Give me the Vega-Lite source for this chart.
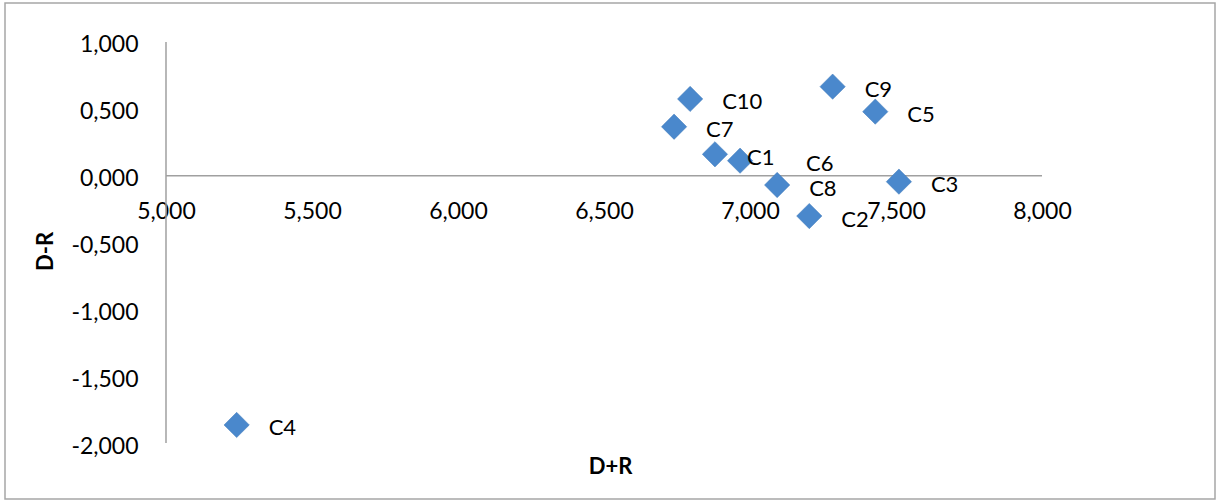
{
  "$schema": "https://vega.github.io/schema/vega-lite/v6.json",
  "width": 1210,
  "height": 496,
  "autosize": {"type": "none"},
  "padding": {"left": 5, "top": 3, "right": 5, "bottom": 2},
  "background": "white",
  "config": {
    "view": {"stroke": "#a6a6a6", "strokeWidth": 1.5},
    "font": "Lato"
  },
  "datasets": {
    "points": [
      {"label": "C1", "dr_sum": 6.880, "dr_diff": 0.160},
      {"label": "C2", "dr_sum": 7.203, "dr_diff": -0.302},
      {"label": "C3", "dr_sum": 7.510, "dr_diff": -0.045},
      {"label": "C4", "dr_sum": 5.242, "dr_diff": -1.865},
      {"label": "C5", "dr_sum": 7.429, "dr_diff": 0.479},
      {"label": "C6", "dr_sum": 6.966, "dr_diff": 0.112},
      {"label": "C7", "dr_sum": 6.740, "dr_diff": 0.366},
      {"label": "C8", "dr_sum": 7.093, "dr_diff": -0.070},
      {"label": "C9", "dr_sum": 7.283, "dr_diff": 0.666},
      {"label": "C10", "dr_sum": 6.795, "dr_diff": 0.574}
    ],
    "axislines": [
      {"dr_sum": 5, "dr_diff": -2, "sum_end": 5, "diff_end": 1},
      {"dr_sum": 5, "dr_diff": 0, "sum_end": 8, "diff_end": 0}
    ]
  },
  "layer": [
    {
      "data": {"name": "axislines"},
      "mark": {"type": "rule", "color": "#a0a0a0", "strokeWidth": 1.5},
      "encoding": {
        "x": {
          "field": "dr_sum",
          "type": "quantitative",
          "scale": {"domain": [4.44863, 8.59247], "nice": false, "zero": false},
          "axis": {
            "orient": "bottom",
            "offset": -323.33,
            "values": [5, 5.5, 6, 6.5, 7, 7.5, 8],
            "domain": false,
            "ticks": false,
            "tickSize": 0,
            "grid": false,
            "labelExpr": "replace(replace(format(datum.value, '.3f'), '.', ','), '\u2212', '-')",
            "labelFont": "Lato",
            "labelFontSize": 23,
            "labelColor": "black",
            "labelPadding": 25,
            "labelBaseline": "top",
            "labelFlush": false,
            "labelOverlap": false,
            "title": "D+R",
            "titleFont": "Lato",
            "titleFontSize": 22,
            "titleFontWeight": "bold",
            "titleColor": "black",
            "titleY": 291,
            "titleBaseline": "middle"
          }
        },
        "y": {
          "field": "dr_diff",
          "type": "quantitative",
          "scale": {"domain": [-2.41895, 1.29177], "nice": false, "zero": false},
          "axis": {
            "orient": "left",
            "offset": -161,
            "values": [-2, -1.5, -1, -0.5, 0, 0.5, 1],
            "domain": false,
            "ticks": false,
            "tickSize": 0,
            "grid": false,
            "labelExpr": "replace(replace(format(datum.value, '.3f'), '.', ','), '\u2212', '-')",
            "labelFont": "Lato",
            "labelFontSize": 23,
            "labelColor": "black",
            "labelPadding": 28,
            "labelBaseline": "middle",
            "labelOffset": 3,
            "labelFlush": false,
            "labelOverlap": false,
            "title": "D-R",
            "titleFont": "Lato",
            "titleFontSize": 22,
            "titleFontWeight": "bold",
            "titleColor": "black",
            "titleX": -121,
            "titleBaseline": "middle"
          }
        },
        "x2": {"field": "sum_end"},
        "y2": {"field": "diff_end"}
      }
    },
    {
      "data": {"name": "points"},
      "mark": {"type": "point", "shape": "diamond", "filled": true, "size": 640, "color": "#4a88cc", "opacity": 1, "stroke": "#3f78b8", "strokeWidth": 0.5},
      "encoding": {
        "x": {"field": "dr_sum", "type": "quantitative"},
        "y": {"field": "dr_diff", "type": "quantitative"}
      }
    },
    {
      "data": {"name": "points"},
      "transform": [{"filter": "datum.label != 'C6'"}],
      "mark": {"type": "text", "align": "left", "baseline": "middle", "dx": 32, "dy": 3.5, "font": "Lato", "fontSize": 22, "color": "black"},
      "encoding": {
        "x": {"field": "dr_sum", "type": "quantitative"},
        "y": {"field": "dr_diff", "type": "quantitative"},
        "text": {"field": "label"}
      }
    },
    {
      "data": {"name": "points"},
      "transform": [{"filter": "datum.label == 'C6'"}],
      "mark": {"type": "text", "align": "left", "baseline": "middle", "dx": 66, "dy": 3.6, "font": "Lato", "fontSize": 22, "color": "black"},
      "encoding": {
        "x": {"field": "dr_sum", "type": "quantitative"},
        "y": {"field": "dr_diff", "type": "quantitative"},
        "text": {"field": "label"}
      }
    }
  ]
}
